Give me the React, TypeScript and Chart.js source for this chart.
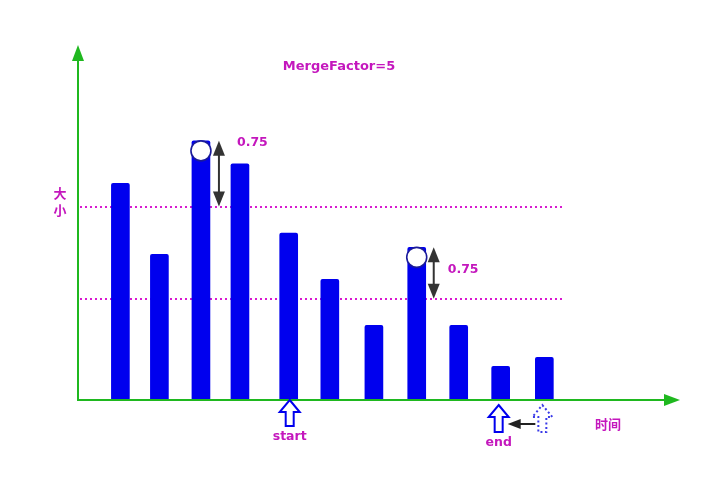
import React, { useEffect, useRef } from "react";
import { Chart, registerables } from "chart.js";

Chart.register(...registerables);

const positions = [1, 1.92, 2.9, 3.82, 4.97, 5.94, 6.98, 7.99, 8.98, 9.97, 11.0];
const sizes = [61, 41, 73, 66.5, 47, 34, 21, 43, 21, 9.5, 12];
const thresholds = [54.5, 28.5];
const circleBars = [2, 7];
const deltaLabel = "0.75";
const titleText = "MergeFactor=5";
const yLabel = ["大", "小"];
const xLabel = "时间";
const startBar = 4;
const endBar = 9;
const nextBar = 10;

const MAGENTA = "#c417bd";
const GREEN = "#1fb81f";
const BLUE = "#0000ee";
const DARK = "#333333";
const LATIN = "bold 12.5px 'DejaVu Sans', sans-serif";
const CJK = "bold 13px 'Noto Sans CJK SC', sans-serif";

function hollowUpArrow(ctx: CanvasRenderingContext2D, x: number, top: number, h: number, dashed: boolean) {
  const hw = 10, sw = 4, headH = 12;
  ctx.save();
  ctx.beginPath();
  ctx.moveTo(x, top);
  ctx.lineTo(x + hw, top + headH);
  ctx.lineTo(x + sw, top + headH);
  ctx.lineTo(x + sw, top + h);
  ctx.lineTo(x - sw, top + h);
  ctx.lineTo(x - sw, top + headH);
  ctx.lineTo(x - hw, top + headH);
  ctx.closePath();
  ctx.fillStyle = "#ffffff";
  ctx.fill();
  ctx.lineWidth = 2;
  if (dashed) {
    ctx.setLineDash([2, 2.5]);
    ctx.strokeStyle = "#3a3ae8";
  } else {
    ctx.strokeStyle = BLUE;
  }
  ctx.stroke();
  ctx.restore();
}

function doubleArrow(ctx: CanvasRenderingContext2D, x: number, y1: number, y2: number) {
  const hw = 6, hh = 15;
  ctx.save();
  ctx.strokeStyle = DARK;
  ctx.fillStyle = DARK;
  ctx.lineWidth = 2;
  ctx.beginPath();
  ctx.moveTo(x, y1 + hh - 2);
  ctx.lineTo(x, y2 - hh + 2);
  ctx.stroke();
  ctx.beginPath();
  ctx.moveTo(x, y1);
  ctx.lineTo(x + hw, y1 + hh);
  ctx.lineTo(x - hw, y1 + hh);
  ctx.closePath();
  ctx.fill();
  ctx.beginPath();
  ctx.moveTo(x, y2);
  ctx.lineTo(x + hw, y2 - hh);
  ctx.lineTo(x - hw, y2 - hh);
  ctx.closePath();
  ctx.fill();
  ctx.restore();
}

const diagramPlugin = {
  id: "diagram",
  beforeDatasetsDraw(chart: any) {
    const { ctx, chartArea, scales } = chart;
    const xs = scales.x, ys = scales.y;
    ctx.save();
    ctx.strokeStyle = "#d81ad0";
    ctx.lineWidth = 2;
    ctx.setLineDash([2, 3]);
    const xEnd = xs.getPixelForValue(positions[positions.length - 1] + 0.42);
    thresholds.forEach((t) => {
      const y = Math.round(ys.getPixelForValue(t));
      ctx.beginPath();
      ctx.moveTo(chartArea.left + 2, y);
      ctx.lineTo(xEnd, y);
      ctx.stroke();
    });
    ctx.restore();
  },
  afterDatasetsDraw(chart: any) {
    const { ctx, chartArea, scales } = chart;
    const xs = scales.x, ys = scales.y;
    const L = chartArea.left, B = chartArea.bottom, T = chartArea.top, R = chartArea.right;
    ctx.save();
    ctx.strokeStyle = GREEN;
    ctx.fillStyle = GREEN;
    ctx.lineWidth = 2;
    ctx.beginPath();
    ctx.moveTo(L, B);
    ctx.lineTo(L, T + 10);
    ctx.moveTo(L - 1, B);
    ctx.lineTo(R - 10, B);
    ctx.stroke();
    ctx.beginPath();
    ctx.moveTo(L, T);
    ctx.lineTo(L + 6, T + 16);
    ctx.lineTo(L - 6, T + 16);
    ctx.closePath();
    ctx.fill();
    ctx.beginPath();
    ctx.moveTo(R, B);
    ctx.lineTo(R - 16, B + 6);
    ctx.lineTo(R - 16, B - 6);
    ctx.closePath();
    ctx.fill();

    circleBars.forEach((bi, k) => {
      const bx = xs.getPixelForValue(positions[bi]);
      const by = ys.getPixelForValue(sizes[bi]);
      ctx.beginPath();
      ctx.arc(bx, by + 10, 10, 0, Math.PI * 2);
      ctx.fillStyle = "#ffffff";
      ctx.fill();
      ctx.strokeStyle = "#1a1a9a";
      ctx.lineWidth = 1.6;
      ctx.stroke();
      const ax = k === 0 ? bx + 18 : bx + 17;
      const ty = ys.getPixelForValue(thresholds[k]);
      doubleArrow(ctx, ax, by, ty);
      ctx.fillStyle = MAGENTA;
      ctx.font = LATIN;
      ctx.textAlign = "left";
      ctx.textBaseline = "middle";
      const ly = k === 0 ? by + 2 : (by + ty) / 2 - 3;
      ctx.fillText(deltaLabel, ax + (k === 0 ? 18 : 14), ly);
    });

    ctx.fillStyle = MAGENTA;
    ctx.font = "bold 13px 'DejaVu Sans', sans-serif";
    ctx.textAlign = "center";
    ctx.textBaseline = "middle";
    ctx.fillText(titleText, 339, 67);

    ctx.font = CJK;
    ctx.fillText(yLabel[0], L - 18, 193);
    ctx.fillText(yLabel[1], L - 18, 210);
    ctx.fillText(xLabel, 608, 424);

    const sx = xs.getPixelForValue(positions[startBar]) + 1;
    hollowUpArrow(ctx, sx, B, 26, false);
    ctx.fillStyle = MAGENTA;
    ctx.font = LATIN;
    ctx.textAlign = "center";
    ctx.fillText("start", sx, 437);
    const ex = xs.getPixelForValue(positions[endBar]) - 2;
    hollowUpArrow(ctx, ex, B + 5, 27, false);
    ctx.fillStyle = MAGENTA;
    ctx.fillText("end", ex, 443);
    const nx = xs.getPixelForValue(positions[nextBar]) - 2;
    hollowUpArrow(ctx, nx, B + 5, 27, true);
    ctx.strokeStyle = "#222";
    ctx.fillStyle = "#222";
    ctx.lineWidth = 2;
    ctx.beginPath();
    ctx.moveTo(nx - 7, 424);
    ctx.lineTo(ex + 20, 424);
    ctx.stroke();
    ctx.beginPath();
    ctx.moveTo(ex + 9, 424);
    ctx.lineTo(ex + 22, 419);
    ctx.lineTo(ex + 22, 429);
    ctx.closePath();
    ctx.fill();
    ctx.restore();
  },
};

export default function App() {
  const ref = useRef<HTMLCanvasElement>(null);
  useEffect(() => {
    if (!ref.current) return;
    const chart = new Chart(ref.current, {
      type: "bar",
      data: {
        datasets: [
          {
            data: positions.map((p, i) => ({ x: p, y: sizes[i] })),
            backgroundColor: BLUE,
            borderWidth: 0,
            borderRadius: 2,
            borderSkipped: "bottom",
            barThickness: 18,
          },
        ],
      },
      options: {
        animation: false,
        responsive: false,
        maintainAspectRatio: false,
        layout: { padding: { left: 78, right: 30, top: 45, bottom: 85 } },
        plugins: { legend: { display: false }, tooltip: { enabled: false } },
        scales: {
          x: { type: "linear", min: 0, max: 14.2, offset: false, display: false },
          y: { min: 0, max: 100, display: false },
        },
      },
      plugins: [diagramPlugin],
    } as any);
    return () => chart.destroy();
  }, []);
  return (
    <div style={{ position: "fixed", left: 0, top: 0, width: 710, height: 485, background: "#fff" }}>
      <canvas ref={ref} width={710} height={485} style={{ width: 710, height: 485, display: "block" }} />
    </div>
  );
}
